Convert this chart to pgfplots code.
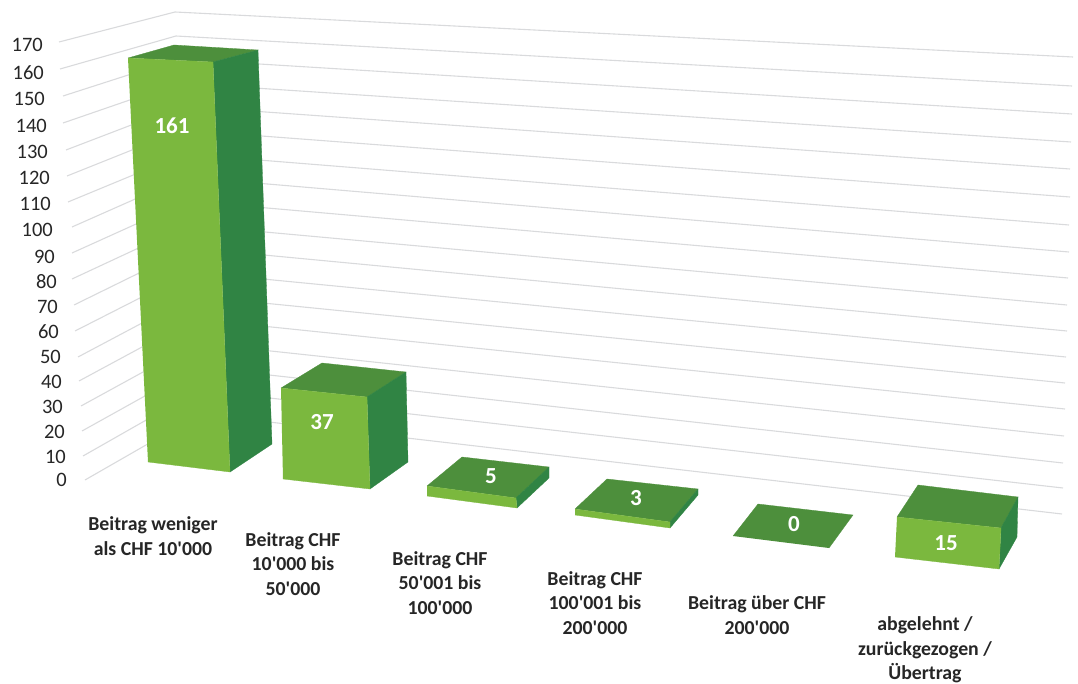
\documentclass[border=0pt]{standalone}
\usepackage{fontspec}
\setmainfont{Carlito}
\usepackage{pgfplots}
\pgfplotsset{compat=1.18}

\definecolor{frontc}{HTML}{7BB83E}
\definecolor{topc}{HTML}{4D8F3C}
\definecolor{sidec}{HTML}{308444}
\definecolor{gridc}{HTML}{D9DADC}
\definecolor{textc}{HTML}{262626}

% the picture is a flat 3D projection: everything is in reference pixels
\pgfplotstableread{
x y
59 42
175 12
1073 57
nan nan
60 69
176 36
1072 86
nan nan
63 96
178 59
1072 114
nan nan
63 123
179 83
1071 142
nan nan
66 150
181 106
1070 169
nan nan
67 176
182 130
1070 197
nan nan
68 202
184 154
1069 225
nan nan
72 227
185 177
1069 252
nan nan
72 253
187 201
1068 278
nan nan
72 279
188 225
1067 305
nan nan
74 305
190 248
1067 331
nan nan
75 331
191 272
1066 357
nan nan
78 357
193 296
1065 383
nan nan
79 381
194 319
1065 409
nan nan
81 406
196 343
1064 436
nan nan
82 431
197 367
1063 463
nan nan
83 456
199 390
1063 488
nan nan
85 480
200 414
1062 514
}\gridtable

\pgfplotstableread{
x y label
43 45 170
44 73 160
45 99 150
47 126 140
48 152 130
50 178 120
51 204 110
53 230 100
55 257 90
57 282 80
58 307 70
59 332 60
61 357 50
62 382 40
63 407 30
65 432 20
66 457 10
67 480 0
}\ticktable

\pgfplotstableread{
x y label
172 126 161
322 422 37
491 476 5
636 498 3
794 524 0
946 543 15
}\valuetable

\newcommand{\boxbar}[3]{%
  \addplot[fill=topc,draw=topc,line width=.3pt] coordinates {#1};
  \addplot[fill=sidec,draw=sidec,line width=.3pt] coordinates {#2};
  \addplot[fill=frontc,draw=frontc,line width=.3pt] coordinates {#3};
}
\newcommand{\q}{\textquotesingle}

\tikzset{cat/.style={font=\fontsize{19.8}{24.5}\selectfont\bfseries,text=textc,align=center,inner sep=0pt}}

\begin{document}
\begin{tikzpicture}
\useasboundingbox (0,0) rectangle (1078pt,684pt);
\begin{axis}[
    anchor=south west,
    at={(0,0)},
    scale only axis,
    width=1078pt,
    height=684pt,
    xmin=0, xmax=1078,
    ymin=0, ymax=684,
    y dir=reverse,
    hide axis,
    clip=false,
    no markers,
    unbounded coords=jump,
]
% gridlines
\addplot[gridc,line width=1.1pt] table[x=x,y=y] {\gridtable};

% tick numbers
\addplot[draw=none,nodes near coords,point meta=explicit symbolic,
    nodes near coords style={anchor=east,inner sep=0pt,text=textc,font=\fontsize{20.5}{22}\selectfont}]
    table[x=x,y=y,meta=label] {\ticktable};

% bars: top, side, front
\boxbar{(128,58)(174,45)(258,50)(213,62)}
    {(213,62)(258,50)(272,444)(230,472)}
    {(128,58)(213,62)(230,472)(148,462)}
\boxbar{(281,388)(322,363)(406,372)(367,397)}
    {(367,397)(406,372)(408,462)(370,489)}
    {(281,388)(367,397)(370,489)(283,479)}
\boxbar{(427,486)(462,457)(549,467)(516,498)}
    {(516,498)(549,467)(549,478)(517,508)}
    {(427,486)(516,498)(517,508)(427,496)}
\boxbar{(575,509)(607,479)(698,489)(670,522)}
    {(670,522)(698,489)(698,495)(670,528)}
    {(575,509)(670,522)(670,528)(575,515)}
\addplot[fill=topc,draw=topc,line width=.3pt] coordinates {(733,536)(758,504)(853,515)(829,548)};
\boxbar{(897,517)(918,485)(1018,497)(1001,528)}
    {(1001,528)(1018,497)(1017,537)(999,569)}
    {(897,517)(1001,528)(999,569)(895,557)}

% value labels
\addplot[draw=none,nodes near coords,point meta=explicit symbolic,
    nodes near coords style={anchor=center,inner sep=0pt,text=white,font=\fontsize{23}{26}\selectfont\bfseries}]
    table[x=x,y=y,meta=label] {\valuetable};

% category labels
\node[cat] at (axis cs:153,536) {Beitrag weniger\\als CHF 10\q000};
\node[cat] at (axis cs:293,564) {Beitrag CHF\\10\q000 bis\\50\q000};
\node[cat] at (axis cs:440,583) {Beitrag CHF\\50\q001 bis\\100\q000};
\node[cat] at (axis cs:595,603) {Beitrag CHF\\100\q001 bis\\200\q000};
\node[cat] at (axis cs:757,615) {Beitrag über CHF\\200\q000};
\node[cat] at (axis cs:925,650) {abgelehnt /\\zurückgezogen /\\Übertrag};
\end{axis}
\end{tikzpicture}
\end{document}
